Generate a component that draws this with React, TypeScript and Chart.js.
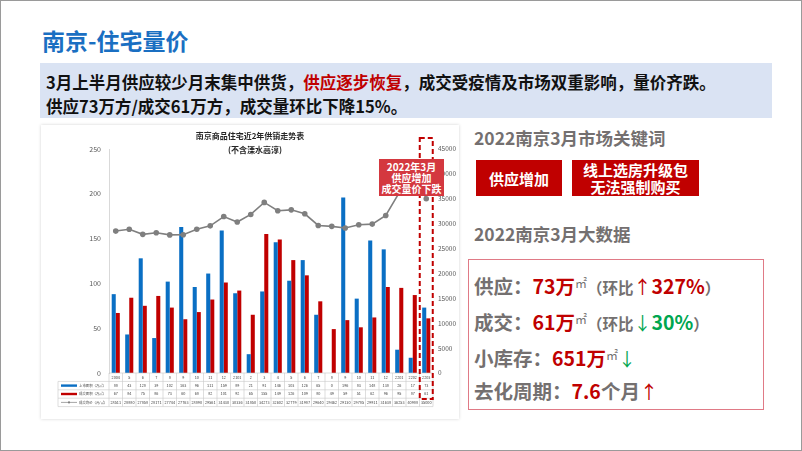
import React, { useEffect, useRef } from "react";
import { Chart, registerables } from "chart.js";

Chart.register(...registerables);

// ---------------- data ----------------
const categories = ["2004", "5", "6", "7", "8", "9", "10", "11", "12", "2101", "2", "3", "4", "5", "6", "7", "8", "9", "10", "11", "12", "2201", "2202", "2203"];
const supplyArea = [88, 43, 128, 39, 102, 163, 96, 111, 159, 89, 21, 91, 146, 103, 126, 65, 0, 196, 83, 148, 138, 26, 17, 73];
const dealArea = [67, 84, 75, 86, 73, 60, 68, 82, 101, 92, 65, 155, 149, 126, 109, 80, 49, 59, 51, 62, 96, 95, 87, 61];
const avgPrice = [28511, 28880, 27858, 28171, 27744, 27763, 28890, 29561, 31430, 30336, 31850, 34273, 32602, 32779, 31987, 29640, 29462, 29130, 29785, 29911, 31638, 36253, 40988, 35000];
const leftTicks = [0, 50, 100, 150, 200, 250];
const rightTicks = [0, 5000, 10000, 15000, 20000, 25000, 30000, 35000, 40000, 45000];
const seriesNames = ["上市面积（万㎡）", "成交面积（万㎡）", "成交均价（元/㎡）"];
const chartTitle = ["南京商品住宅近2年供销走势表", "(不含溧水高淳)"];
const calloutLines = ["2022年3月", "供应增加", "成交量价下跌"];

const BLUE = "#0a6fc4";
const RED = "#c00000";
const GRAY = "#7f7f7f";
const CJK = '"Noto Sans CJK SC", "Noto Sans", sans-serif';

const tablePlugin = {
  id: "tableAndTitle",
  afterDraw(chart: any) {
    const { ctx, chartArea } = chart;
    const xs = chart.scales.x;
    const n = categories.length;
    const colW = (chartArea.right - chartArea.left) / n;
    const top = chartArea.bottom;
    const rh = 8.4;
    const legL = 17;
    ctx.save();

    // chart title
    ctx.fillStyle = "#262626";
    ctx.font = `bold 8px ${CJK}`;
    ctx.textAlign = "center";
    ctx.textBaseline = "middle";
    ctx.fillText(chartTitle[0], 209, 10.5);
    ctx.fillText(chartTitle[1], 214, 24.5);

    // table grid
    ctx.strokeStyle = "#c8c8c8";
    ctx.lineWidth = 0.6;
    ctx.beginPath();
    for (let k = 0; k <= 4; k++) {
      const y = top + k * rh;
      ctx.moveTo(k === 0 ? chartArea.left : legL, y);
      ctx.lineTo(chartArea.right, y);
    }
    for (let i = 0; i <= n; i++) {
      const x = chartArea.left + i * colW;
      ctx.moveTo(x, top);
      ctx.lineTo(x, top + 4 * rh);
    }
    ctx.moveTo(legL, top + rh);
    ctx.lineTo(legL, top + 4 * rh);
    ctx.stroke();

    // table values
    ctx.fillStyle = "#404040";
    ctx.font = `3.8px ${CJK}`;
    ctx.textAlign = "center";
    const rows = [categories, supplyArea, dealArea, avgPrice];
    rows.forEach((row, r) => {
      const y = top + (r + 0.5) * rh;
      row.forEach((v, i) => {
        ctx.fillText(String(v), xs.getPixelForValue(i), y);
      });
    });

    // legend keys
    const colors = [BLUE, RED, GRAY];
    ctx.font = `3.4px ${CJK}`;
    seriesNames.forEach((name, r) => {
      const y = top + (r + 1.5) * rh;
      ctx.strokeStyle = colors[r];
      ctx.lineWidth = r === 2 ? 0.7 : 2.4;
      ctx.beginPath();
      ctx.moveTo(legL + 3, y);
      ctx.lineTo(legL + 19, y);
      ctx.stroke();
      if (r === 2) {
        ctx.fillStyle = GRAY;
        ctx.beginPath();
        ctx.arc(legL + 11, y, 1.1, 0, Math.PI * 2);
        ctx.fill();
      }
      ctx.fillStyle = "#404040";
      ctx.textAlign = "left";
      ctx.fillText(name, legL + 21, y);
    });

    // dashed highlight for last column
    const cx = xs.getPixelForValue(n - 1);
    ctx.strokeStyle = RED;
    ctx.lineWidth = 2;
    ctx.setLineDash([5, 3]);
    ctx.strokeRect(cx - 6.5, 13, 13, 261);
    ctx.restore();
  },
};

function SalesChart() {
  const ref = useRef<HTMLCanvasElement>(null);
  useEffect(() => {
    if (!ref.current) return;
    const chart = new Chart(ref.current, {
      type: "bar",
      data: {
        labels: categories,
        datasets: [
          {
            type: "line" as const,
            label: seriesNames[2],
            data: avgPrice,
            yAxisID: "y1",
            borderColor: GRAY,
            backgroundColor: GRAY,
            borderWidth: 1.6,
            pointRadius: 2.8,
            pointBorderWidth: 0,
            pointBackgroundColor: GRAY,
            tension: 0,
            order: 0,
          } as any,
          {
            label: seriesNames[0],
            data: supplyArea,
            backgroundColor: BLUE,
            yAxisID: "y",
            categoryPercentage: 0.6,
            barPercentage: 1,
            order: 1,
          },
          {
            label: seriesNames[1],
            data: dealArea,
            backgroundColor: RED,
            yAxisID: "y",
            categoryPercentage: 0.6,
            barPercentage: 1,
            order: 1,
          },
        ],
      },
      options: {
        animation: false,
        responsive: false,
        maintainAspectRatio: false,
        devicePixelRatio: 1,
        layout: { padding: { top: 24, bottom: 46, left: 0, right: 0 } },
        plugins: { legend: { display: false }, title: { display: false }, tooltip: { enabled: false } },
        scales: {
          x: { display: false, offset: true },
          y: {
            position: "left",
            min: 0,
            max: 250,
            afterBuildTicks: (s: any) => {
              s.ticks = leftTicks.map((v) => ({ value: v }));
            },
            afterFit: (s: any) => {
              s.width = 68;
            },
            ticks: { font: { size: 7, family: CJK }, color: "#595959", padding: 8, callback: (v: any) => String(v) },
            grid: { display: false, drawTicks: false },
            border: { display: true, color: "#d9d9d9", width: 1 },
          },
          y1: {
            position: "right",
            min: 0,
            max: 45000,
            afterBuildTicks: (s: any) => {
              s.ticks = rightTicks.map((v) => ({ value: v }));
            },
            afterFit: (s: any) => {
              s.width = 26;
            },
            ticks: { font: { size: 6.5, family: CJK }, color: "#595959", padding: 5, callback: (v: any) => String(v) },
            grid: { display: false, drawTicks: false },
            border: { display: false },
          },
        },
      },
      plugins: [tablePlugin],
    });
    return () => chart.destroy();
  }, []);
  return <canvas ref={ref} width={418} height={294} style={{ display: "block", width: 418, height: 294 }} />;
}

const gray = "#747070";
const red = "#c00000";
const green = "#00a650";

function StatLine({ top, children }: { top: number; children: React.ReactNode }) {
  return (
    <div style={{ position: "absolute", left: 473, top, height: 30, lineHeight: "30px", whiteSpace: "nowrap", fontFamily: CJK, fontWeight: 700, fontSize: 19.5, color: gray }}>
      {children}
    </div>
  );
}

const sq = { fontSize: 12, fontWeight: 400, verticalAlign: "6px", color: gray } as React.CSSProperties;
const small = { fontSize: 15.5, color: gray } as React.CSSProperties;
const arrow = { fontWeight: 400, fontSize: 18 } as React.CSSProperties;

export default function App() {
  useEffect(() => {
    document.body.style.margin = "0";
  }, []);
  return (
    <div style={{ position: "fixed", left: 0, top: 0, width: 802, height: 451, background: "#fff", overflow: "hidden", boxSizing: "border-box", border: "1px solid #9a9a9a", fontFamily: CJK }}>
      <div style={{ position: "absolute", left: 41, top: 25, fontSize: 23, fontWeight: 700, color: "#1a6fc2", lineHeight: "28px", whiteSpace: "nowrap" }}>南京-住宅量价</div>
      <div style={{ position: "absolute", left: 39, top: 62, width: 732, height: 55, background: "#dae3f3" }}>
        <div style={{ position: "absolute", left: 6, top: 7, fontSize: 16.5, fontWeight: 700, color: "#111", lineHeight: "24px", whiteSpace: "nowrap" }}>
          3月上半月供应较少月末集中供货，<span style={{ color: red }}>供应逐步恢复</span>，成交受疫情及市场双重影响，量价齐跌。
          <br />
          供应73万方/成交61万方，成交量环比下降15%。
        </div>
      </div>

      <div style={{ position: "absolute", left: 40, top: 124, width: 418, height: 294, background: "#fff", boxShadow: "0 0 3px rgba(0,0,0,0.18)" }}>
        <SalesChart />
      </div>
      <div style={{ position: "absolute", left: 378, top: 158, width: 65, height: 37, background: "rgb(212,56,63)", color: "#fff", fontWeight: 700, fontSize: 10, lineHeight: "11px", textAlign: "center", display: "flex", flexDirection: "column", justifyContent: "center" }}>
        {calloutLines.map((t) => (
          <div key={t}>{t}</div>
        ))}
      </div>

      <div style={{ position: "absolute", left: 473, top: 125, fontSize: 17.5, fontWeight: 700, color: gray, lineHeight: "24px", whiteSpace: "nowrap" }}>2022南京3月市场关键词</div>
      <div style={{ position: "absolute", left: 475, top: 159, width: 86, height: 36, background: red, color: "#fff", fontSize: 15, fontWeight: 700, display: "flex", alignItems: "center", justifyContent: "center" }}>供应增加</div>
      <div style={{ position: "absolute", left: 571, top: 159, width: 127, height: 36, background: red, color: "#fff", fontSize: 15, fontWeight: 700, lineHeight: "17px", display: "flex", flexDirection: "column", alignItems: "center", justifyContent: "center" }}>
        <div>线上选房升级包</div>
        <div>无法强制购买</div>
      </div>
      <div style={{ position: "absolute", left: 473, top: 221, fontSize: 17.5, fontWeight: 700, color: gray, lineHeight: "24px", whiteSpace: "nowrap" }}>2022南京3月大数据</div>

      <div style={{ position: "absolute", left: 467, top: 258, width: 296, height: 151, boxSizing: "border-box", border: "1.5px solid #e07a86" }} />
      <StatLine top={267}>
        供应：<span style={{ color: red }}>73万</span><span style={sq}>㎡</span><span style={small}>（环比</span><span style={{ ...arrow, color: red }}>↑</span><span style={{ color: red }}>327%</span><span style={small}>）</span>
      </StatLine>
      <StatLine top={303}>
        成交：<span style={{ color: red }}>61万</span><span style={sq}>㎡</span><span style={small}>（环比</span><span style={{ ...arrow, color: green }}>↓</span><span style={{ color: green }}>30%</span><span style={small}>）</span>
      </StatLine>
      <StatLine top={339}>
        小库存：<span style={{ color: red }}>651万</span><span style={sq}>㎡</span><span style={{ ...arrow, color: green }}>↓</span>
      </StatLine>
      <StatLine top={375}>
        去化周期：<span style={{ color: red }}>7.6</span>个月<span style={{ ...arrow, color: red }}>↑</span>
      </StatLine>
    </div>
  );
}
